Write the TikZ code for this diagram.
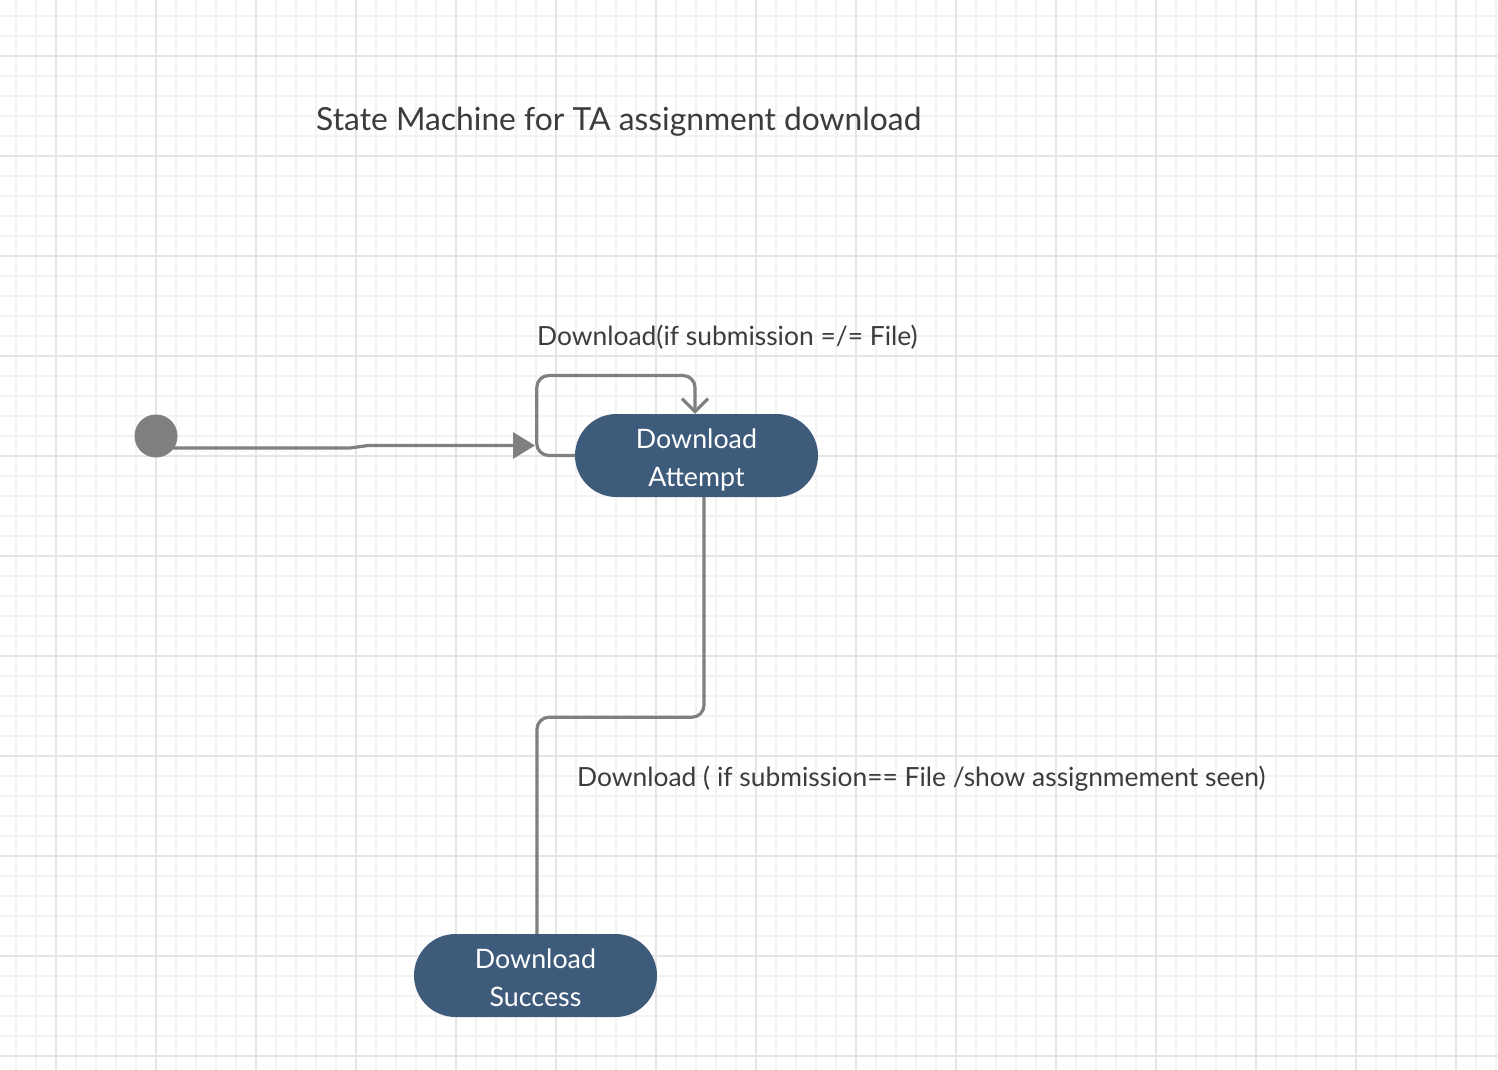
\documentclass[tikz,border=0pt]{standalone}
\usepackage{fontspec}
\setmainfont{Lato}
\usetikzlibrary{arrows.meta}
\definecolor{gridminor}{HTML}{F3F3F3}
\definecolor{gridmajor}{HTML}{E5E5E5}
\definecolor{stfill}{HTML}{3E5B7B}
\definecolor{edgegray}{HTML}{808080}
\definecolor{txtgray}{HTML}{3C3C3C}
\tikzset{
  statebox/.style={draw=none, fill=stfill, rounded corners=41.5pt, minimum width=243pt, minimum height=83pt,
    align=center, text=white, font=\fontsize{26.8}{38}\selectfont, inner sep=0pt},
  statetext/.style={text=white, font=\fontsize{26.8}{38}\selectfont, align=center, inner sep=0pt},
  initdot/.style={circle, fill=edgegray, minimum size=43pt, inner sep=0pt},
  edge/.style={draw=edgegray, line width=3.2pt},
  lbl/.style={text=txtgray, font=\fontsize{26.4}{30}\selectfont, inner sep=0pt, anchor=base west},
}
\begin{document}
\begin{tikzpicture}[x=1pt,y=-1pt]
\useasboundingbox (0,0) rectangle (1498,1070);
\fill[white] (0,0) rectangle (1498,1070);
% grid
\foreach \x in {16,36,...,1496} \draw[gridminor, line width=1.5pt] (\x,0) -- (\x,1070);
\foreach \y in {16,36,...,1066} \draw[gridminor, line width=1.5pt] (0,\y) -- (1498,\y);
\foreach \x in {56,156,...,1456} \draw[gridmajor, line width=2pt] (\x,0) -- (\x,1070);
\foreach \y in {56,156,...,1056} \draw[gridmajor, line width=2pt] (0,\y) -- (1498,\y);
% title
\node[lbl, font=\fontsize{31.8}{36}\selectfont] (title) at (316,131) {State Machine for TA assignment download};
% nodes
\node[initdot] (init) at (156,436) {};
\node[statebox] (att) at (696.5,455.5) {};
\node[statetext] (atttxt) at ([yshift=-4.5pt]att.center) {Download\\Attempt};
\node[statebox] (succ) at (535.5,975.5) {};
\node[statetext] (succtxt) at ([yshift=-2.5pt]succ.center) {Download\\Success};
\coordinate (inend) at (535,445.5);
% initial transition
\draw[edge, -{Triangle[length=22pt,width=26pt]}] ([xshift=15pt,yshift=-12pt]init.center) -- (350,448) -- (368,445.5) -- (inend);
% self loop
\draw[edge, rounded corners=12pt, -{Straight Barb[length=13pt,width=26pt]}]
  (att.west) -- ++(-38,0) -- ++(0,-80) -| ([xshift=-1.5pt]att.north);
\node[lbl] (l1) at (537,345) {Download(if submission =/= File)};
% down transition
\draw[edge, rounded corners=12pt] ([xshift=7.5pt]att.south) -- ++(0,220) -| ([xshift=1.5pt]succ.north);
\node[lbl] (l2) at (577,786) {Download ( if submission== File /show assignmement seen)};
\end{tikzpicture}
\end{document}
